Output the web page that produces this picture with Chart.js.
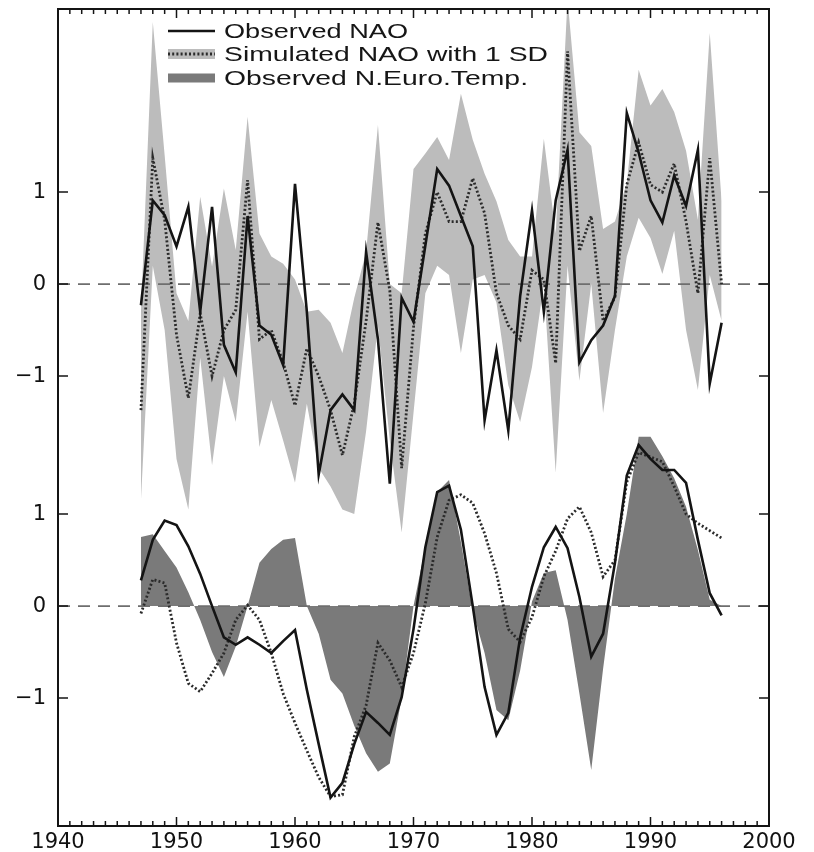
<!DOCTYPE html>
<html>
<head>
<meta charset="utf-8">
<script src="https://cdn.jsdelivr.net/npm/chart.js@4/dist/chart.umd.min.js"></script>
<style>
html,body{margin:0;padding:0;background:#fff;}
#wrap{width:814px;height:852px;position:relative;}
canvas{display:block;}
</style>
</head>
<body>
<div id="wrap"><canvas id="c" width="814" height="852"></canvas></div>
<script>
// ---------- DATA ----------
const years = [1947,1948,1949,1950,1951,1952,1953,1954,1955,1956,
               1957,1958,1959,1960,1961,1962,1963,1964,1965,1966,
               1967,1968,1969,1970,1971,1972,1973,1974,1975,1976,
               1977,1978,1979,1980,1981,1982,1983,1984,1985,1986,
               1987,1988,1989,1990,1991,1992,1993,1994,1995,1996];

// Top panel: annual values
const observedNAO = [-0.23,0.91,0.75,0.41,0.84,-0.30,0.84,-0.66,-0.96,0.74,
                     -0.45,-0.55,-0.88,1.09,-0.30,-2.07,-1.37,-1.20,-1.37,0.35,
                     -0.60,-2.17,-0.15,-0.41,0.42,1.25,1.07,0.74,0.41,-1.48,
                     -0.72,-1.59,-0.13,0.80,-0.30,0.91,1.46,-0.85,-0.61,-0.45,
                     -0.13,1.86,1.43,0.91,0.67,1.18,0.85,1.46,-1.08,-0.42];
const simulatedNAO = [-1.37,1.37,0.70,-0.55,-1.24,-0.32,-1.00,-0.50,-0.28,1.13,
                      -0.60,-0.50,-0.85,-1.32,-0.70,-1.00,-1.37,-1.86,-1.30,-0.40,
                      0.67,-0.07,-2.00,-0.47,0.55,1.00,0.68,0.68,1.15,0.77,
                      -0.10,-0.45,-0.60,0.15,0.05,-0.86,2.53,0.36,0.74,-0.40,
                      -0.14,1.08,1.54,1.08,1.00,1.31,0.68,-0.10,1.37,0.00];
const simUpperSD = [-0.30,2.85,1.40,-0.10,-0.40,0.95,0.19,1.04,0.37,1.82,
                    0.55,0.30,0.22,0.05,-0.30,-0.28,-0.42,-0.75,-0.15,0.35,
                    1.73,0.00,-0.10,1.25,1.42,1.60,1.35,2.07,1.57,1.20,
                    0.90,0.48,0.30,0.30,1.58,0.55,3.10,1.65,1.50,0.60,
                    0.68,1.10,2.33,1.94,2.12,1.87,1.45,0.70,2.73,0.90];
const simLowerSD = [-2.35,0.20,-0.50,-1.90,-2.45,-0.80,-1.97,-1.00,-1.50,-0.30,
                    -1.77,-1.26,-1.70,-2.16,-1.30,-2.00,-2.20,-2.45,-2.50,-1.60,
                    -0.45,-1.70,-2.70,-1.40,-0.10,0.20,0.10,-0.75,0.05,0.10,
                    -0.20,-1.10,-1.50,-0.90,0.00,-2.05,0.20,-1.05,0.00,-1.40,
                    -0.50,0.30,0.72,0.50,0.11,0.58,-0.50,-1.15,0.10,-0.40];

// Bottom panel: smoothed values
const observedNAOSmooth = [0.28,0.72,0.93,0.88,0.65,0.35,0.00,-0.34,-0.42,-0.34,
                           -0.42,-0.51,-0.38,-0.26,-0.91,-1.50,-2.08,-1.92,-1.50,-1.15,
                           -1.27,-1.40,-0.99,-0.25,0.64,1.24,1.31,0.83,0.00,-0.88,
                           -1.40,-1.16,-0.34,0.21,0.64,0.86,0.63,0.10,-0.55,-0.30,
                           0.47,1.42,1.75,1.60,1.48,1.48,1.34,0.72,0.14,-0.10];
const simulatedNAOSmooth = [-0.08,0.29,0.25,-0.40,-0.84,-0.93,-0.73,-0.51,-0.15,0.01,
                            -0.15,-0.51,-0.95,-1.27,-1.57,-1.86,-2.07,-2.05,-1.42,-1.08,
                            -0.40,-0.59,-0.88,-0.51,0.03,0.75,1.15,1.21,1.12,0.79,
                            0.36,-0.25,-0.39,-0.12,0.32,0.60,0.95,1.08,0.80,0.32,
                            0.50,1.35,1.67,1.62,1.57,1.30,1.00,0.90,0.82,0.74];
const nEuroTemp = [0.75,0.78,0.60,0.42,0.15,-0.15,-0.50,-0.77,-0.44,0.00,
                   0.47,0.62,0.72,0.74,0.00,-0.30,-0.80,-0.95,-1.30,-1.60,
                   -1.80,-1.71,-1.00,0.00,0.64,1.24,1.37,0.70,-0.05,-0.51,
                   -1.13,-1.24,-0.70,0.05,0.36,0.39,-0.15,-0.95,-1.78,-0.68,
                   0.30,1.00,1.84,1.84,1.63,1.39,1.08,0.61,0.07,0.00];

// Axis tick values / labels
const xTickStep = 10;
const yTickValues = [-1, 0, 1, 2.5, 3.5, 4.5];
const yTickLabels = ['\u22121', '0', '1', '\u22121', '0', '1'];
const legendLabels = ['Observed NAO', 'Simulated NAO with 1 SD', 'Observed N.Euro.Temp.'];

// ---------- STYLE / LAYOUT ----------
const TOP_SHIFT = 3.5;           // top panel drawn above bottom panel on shared axis
const LIGHT = '#bcbcbc', DARK = '#7a7a7a', INK = '#141414';
const toPts = (arr, shift) => years.map((yr, i) => ({x: yr, y: arr[i] + shift}));

const decor = {
  id: 'decor',
  beforeDatasetsDraw(chart) {
    const {ctx, chartArea: a, scales: {y}} = chart;
    ctx.save();
    ctx.strokeStyle = '#6e6e6e';
    ctx.lineWidth = 1.6;
    ctx.setLineDash([12, 8]);
    [0, TOP_SHIFT].forEach(v => {
      const py = y.getPixelForValue(v);
      ctx.beginPath(); ctx.moveTo(a.left, py); ctx.lineTo(a.right, py); ctx.stroke();
    });
    ctx.restore();
  },
  afterDatasetsDraw(chart) {
    const {ctx, chartArea: a, scales: {x, y}} = chart;
    ctx.save();
    ctx.strokeStyle = INK;
    ctx.lineWidth = 1.5;
    ctx.beginPath();
    for (let yr = x.min; yr <= x.max; yr++) {
      const px = x.getPixelForValue(yr);
      const len = (yr % xTickStep === 0) ? 9 : 5;
      ctx.moveTo(px, a.bottom); ctx.lineTo(px, a.bottom - len);
      ctx.moveTo(px, a.top); ctx.lineTo(px, a.top + len);
    }
    yTickValues.forEach(v => {
      const py = y.getPixelForValue(v);
      ctx.moveTo(a.left, py); ctx.lineTo(a.left + 10, py);
      ctx.moveTo(a.right, py); ctx.lineTo(a.right - 10, py);
    });
    ctx.stroke();
    ctx.lineWidth = 2;
    ctx.strokeRect(a.left, a.top, a.right - a.left, a.bottom - a.top);
    ctx.restore();
  },
  afterDraw(chart) {
    const {ctx} = chart;
    const sx0 = 168, sx1 = 215, tx = 224;
    const rows = [31, 54, 78];
    const targets = [184, 324, 304];
    ctx.save();
    ctx.strokeStyle = INK; ctx.lineWidth = 2.6;
    ctx.beginPath(); ctx.moveTo(sx0, rows[0]); ctx.lineTo(sx1, rows[0]); ctx.stroke();
    ctx.fillStyle = LIGHT; ctx.fillRect(sx0, rows[1] - 5, sx1 - sx0, 10);
    ctx.strokeStyle = '#2b2b2b'; ctx.lineWidth = 2.8; ctx.setLineDash([2, 2.2]);
    ctx.beginPath(); ctx.moveTo(sx0, rows[1]); ctx.lineTo(sx1, rows[1]); ctx.stroke();
    ctx.setLineDash([]);
    ctx.fillStyle = DARK; ctx.fillRect(sx0, rows[2] - 4.5, sx1 - sx0, 9);
    ctx.fillStyle = '#161616';
    ctx.font = '21px "Liberation Sans", Arial, sans-serif';
    ctx.textBaseline = 'middle';
    ctx.textAlign = 'left';
    legendLabels.forEach((t, i) => {
      const w = ctx.measureText(t).width;
      ctx.save();
      ctx.translate(tx, rows[i] + 1);
      ctx.scale(targets[i] / w, 1);
      ctx.fillText(t, 0, 0);
      ctx.restore();
    });
    ctx.restore();
  }
};

const lineBase = {pointRadius: 0, pointHoverRadius: 0, tension: 0, fill: false};

new Chart(document.getElementById('c'), {
  type: 'line',
  data: {
    datasets: [
      Object.assign({}, lineBase, {label: 'Observed NAO', data: toPts(observedNAO, TOP_SHIFT),
        borderColor: INK, borderWidth: 2.6, order: 1}),
      Object.assign({}, lineBase, {label: 'Simulated NAO', data: toPts(simulatedNAO, TOP_SHIFT),
        borderColor: '#2b2b2b', borderWidth: 2.8, borderDash: [2, 2.2], order: 2}),
      Object.assign({}, lineBase, {label: 'Observed NAO (smoothed)', data: toPts(observedNAOSmooth, 0),
        borderColor: INK, borderWidth: 2.6, order: 1}),
      Object.assign({}, lineBase, {label: 'Simulated NAO (smoothed)', data: toPts(simulatedNAOSmooth, 0),
        borderColor: '#2b2b2b', borderWidth: 2.8, borderDash: [2, 2.2], order: 2}),
      Object.assign({}, lineBase, {label: 'Sim +1 SD', data: toPts(simUpperSD, TOP_SHIFT),
        borderWidth: 0, borderColor: 'rgba(0,0,0,0)', backgroundColor: LIGHT, fill: '+1', order: 6}),
      Object.assign({}, lineBase, {label: 'Sim -1 SD', data: toPts(simLowerSD, TOP_SHIFT),
        borderWidth: 0, borderColor: 'rgba(0,0,0,0)', order: 6}),
      Object.assign({}, lineBase, {label: 'Observed N.Euro.Temp.', data: toPts(nEuroTemp, 0),
        borderWidth: 0, borderColor: 'rgba(0,0,0,0)', backgroundColor: DARK, fill: {value: 0}, order: 5})
    ]
  },
  options: {
    responsive: false,
    animation: false,
    devicePixelRatio: 1,
    events: [],
    layout: {padding: {top: 9, right: 45, left: 0, bottom: 0}},
    plugins: {
      legend: {display: false},
      tooltip: {enabled: false},
      filler: {drawTime: 'beforeDatasetsDraw', propagate: false}
    },
    scales: {
      x: {
        type: 'linear', min: 1940, max: 2000,
        ticks: {stepSize: xTickStep, padding: 4, color: '#111',
                font: {family: '"DejaVu Sans", sans-serif', size: 21},
                callback: v => String(v), maxRotation: 0, autoSkip: false},
        grid: {display: false, drawTicks: false},
        border: {display: false},
        afterFit(s) { s.height = 26; s.paddingLeft = 0; s.paddingRight = 0; }
      },
      y: {
        type: 'linear', min: -2.39, max: 6.49,
        afterBuildTicks(s) { s.ticks = yTickValues.map(v => ({value: v})); },
        ticks: {padding: 12, color: '#111',
                font: {family: '"DejaVu Sans", sans-serif', size: 21},
                callback: (v) => { const i = yTickValues.indexOf(v); return i >= 0 ? yTickLabels[i] : ''; }},
        grid: {display: false, drawTicks: false},
        border: {display: false},
        afterFit(s) { s.width = 58; s.paddingTop = 0; s.paddingBottom = 0; }
      }
    }
  },
  plugins: [decor]
});
</script>
</body>
</html>
